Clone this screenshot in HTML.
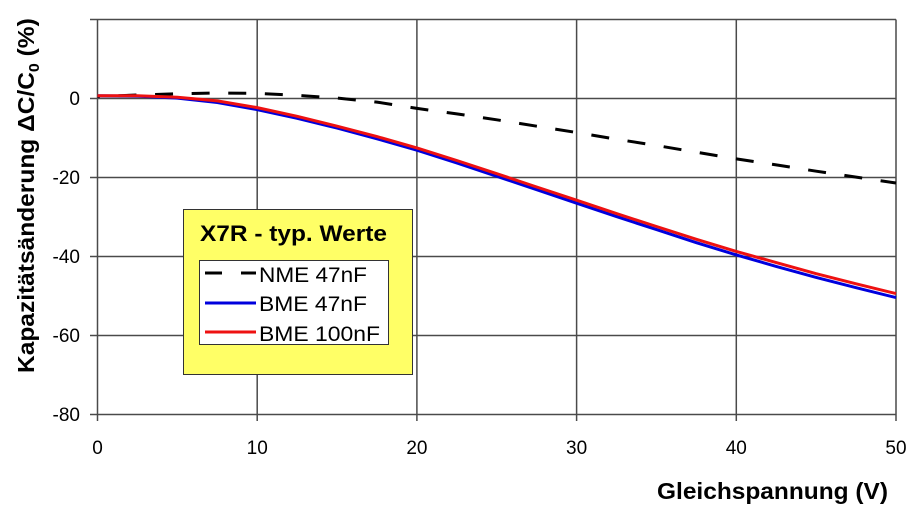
<!DOCTYPE html>
<html>
<head>
<meta charset="utf-8">
<style>
  html, body { margin: 0; padding: 0; background: #ffffff; }
  svg { display: block; }
  text { font-family: "Liberation Sans", Arial, sans-serif; fill: #000; }
</style>
</head>
<body>
<svg width="910" height="512" viewBox="0 0 910 512" xmlns="http://www.w3.org/2000/svg">
  <rect x="0" y="0" width="910" height="512" fill="#ffffff"/>

  <!-- gridlines horizontal -->
  <g stroke="#4a4a4a" stroke-width="1.5" fill="none">
    <line x1="90" y1="19.5" x2="896" y2="19.5"/>
    <line x1="90" y1="98.5" x2="896" y2="98.5"/>
    <line x1="90" y1="177.5" x2="896" y2="177.5"/>
    <line x1="90" y1="256.5" x2="896" y2="256.5"/>
    <line x1="90" y1="335.5" x2="896" y2="335.5"/>
    <line x1="90" y1="414.5" x2="896" y2="414.5"/>
    <!-- vertical -->
    <line x1="97.5" y1="19.5" x2="97.5" y2="421"/>
    <line x1="257.2" y1="19.5" x2="257.2" y2="421"/>
    <line x1="416.9" y1="19.5" x2="416.9" y2="421"/>
    <line x1="576.6" y1="19.5" x2="576.6" y2="421"/>
    <line x1="736.3" y1="19.5" x2="736.3" y2="421"/>
    <line x1="896" y1="19.5" x2="896" y2="421"/>
  </g>

  <!-- Y tick labels -->
  <g font-size="19" text-anchor="end">
    <text x="80" y="105">0</text>
    <text x="80" y="184">-20</text>
    <text x="80" y="263">-40</text>
    <text x="80" y="342">-60</text>
    <text x="80" y="421">-80</text>
  </g>
  <!-- X tick labels -->
  <g font-size="19" text-anchor="middle">
    <text x="97.5" y="454">0</text>
    <text x="257.2" y="454">10</text>
    <text x="416.9" y="454">20</text>
    <text x="576.6" y="454">30</text>
    <text x="736.3" y="454">40</text>
    <text x="896" y="454">50</text>
  </g>

  <!-- axis titles -->
  <text x="657" y="499" font-size="23" font-weight="bold" textLength="231" lengthAdjust="spacingAndGlyphs">Gleichspannung (V)</text>
  <text transform="translate(34,373) rotate(-90) scale(1.066,1)" font-size="23" font-weight="bold">Kapazitätsänderung ΔC/C<tspan font-size="15" dy="5">0</tspan><tspan dy="-5"> (%)</tspan></text>

  <!-- series -->
  <polyline fill="none" stroke="#000" stroke-width="3" stroke-dasharray="18,18.6" stroke-dashoffset="15.6"
    points="97.5,96.5 137.4,95.0 177.4,93.8 217.3,93.0 257.2,93.4 297.1,95.3 337.1,98.1 377.0,102.1 416.9,108.4 456.8,113.9 496.8,119.8 536.7,126.2 576.6,132.5 616.5,139.2 656.5,145.5 696.4,152.2 736.3,158.9 776.2,164.9 816.2,171.2 856.1,177.1 896.0,183.0"/>
  <polyline fill="none" stroke="#0000dd" stroke-width="3" stroke-linejoin="round"
    points="97.5,95.7 137.4,96.1 177.4,98.1 217.3,102.5 257.2,109.6 297.1,118.3 337.1,128.1 377.0,138.8 416.9,150.2 456.8,162.9 496.8,176.3 536.7,189.7 576.6,203.2 616.5,216.6 656.5,229.6 696.4,242.7 736.3,254.9 776.2,266.4 816.2,277.4 856.1,287.7 896.0,297.6"/>
  <polyline fill="none" stroke="#ee1111" stroke-width="3" stroke-linejoin="round"
    points="97.5,95.7 137.4,95.7 177.4,97.3 217.3,100.9 257.2,107.6 297.1,116.3 337.1,126.2 377.0,136.6 416.9,147.9 456.8,160.5 496.8,173.7 536.7,187.0 576.6,200.2 616.5,213.6 656.5,226.5 696.4,239.3 736.3,251.4 776.2,262.6 816.2,273.7 856.1,283.8 896.0,293.6"/>

  <!-- legend -->
  <rect x="183.5" y="209.5" width="229" height="165" fill="#ffff66" stroke="#333" stroke-width="1"/>
  <text x="200" y="241" font-size="22" font-weight="bold" textLength="187" lengthAdjust="spacingAndGlyphs">X7R - typ. Werte</text>
  <rect x="199.5" y="260.5" width="189" height="84" fill="#ffffff" stroke="#333" stroke-width="1"/>
  <line x1="205" y1="273" x2="222" y2="273" stroke="#000" stroke-width="3"/>
  <line x1="241" y1="273" x2="256" y2="273" stroke="#000" stroke-width="3"/>
  <text x="259" y="282" font-size="21" textLength="108" lengthAdjust="spacingAndGlyphs">NME 47nF</text>
  <line x1="205" y1="303" x2="256" y2="303" stroke="#0000dd" stroke-width="3"/>
  <text x="259" y="311" font-size="21" textLength="108" lengthAdjust="spacingAndGlyphs">BME 47nF</text>
  <line x1="205" y1="332" x2="256" y2="332" stroke="#ee1111" stroke-width="3"/>
  <text x="259" y="341" font-size="21" textLength="121" lengthAdjust="spacingAndGlyphs">BME 100nF</text>
</svg>
</body>
</html>
